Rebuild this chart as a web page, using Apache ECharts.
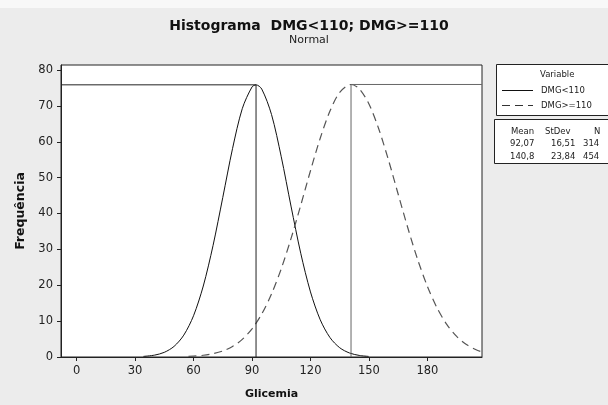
<!DOCTYPE html>
<html>
<head>
<meta charset="utf-8">
<script src="https://cdn.jsdelivr.net/npm/echarts@6/dist/echarts.min.js"></script>
<style>html,body{margin:0;padding:0;background:#ececec;}#c{width:608px;height:405px;}</style>
</head>
<body>
<div id="c"></div>
<script>
// Curve values (fitted normal curves, frequency scale)
const xSolid = [34.3,40,45,50,55,60,65,70,75,80,85,90,92.07,95,100,105,110,115,120,125,130,135,140,145,149.8];
const ySolid = [0.17,0.52,1.30,2.95,6.10,11.50,19.79,31.05,44.46,58.08,69.22,75.27,75.87,74.69,67.61,55.83,42.07,28.92,18.14,10.38,5.42,2.58,1.12,0.44,0.17];
const xDash = [57.4,60,65,70,75,80,85,90,95,100,105,110,115,120,125,130,135,140.8,145,150,155,160,165,170,175,180,185,190,195,200,205,208];
const yDash = [0.17,0.24,0.48,0.92,1.68,2.94,4.91,7.85,12.00,17.57,24.60,32.98,42.30,51.93,60.99,68.56,73.75,75.97,74.80,70.52,63.63,54.93,45.38,35.88,27.15,19.66,13.62,9.03,5.73,3.48,2.02,1.43];
const seriesNames = ['DMG<110','DMG>=110'];
const means = [92.07, 140.8];
const peaks = [75.87, 75.97];
const tableHeader = ['Mean','StDev','N'];
const tableRows = [['92,07','16,51','314'],['140,8','23,84','454']];
const xTicks = [0,30,60,90,120,150,180];
const yTicks = [0,10,20,30,40,50,60,70,80];
const xMin = -8, xMax = 208, yMin = 0, yMax = 81.4;

const zip = (a,b) => a.map((v,i)=>[v,b[i]]);
const F = 'DejaVu Sans';
const LF = '8.5px "DejaVu Sans"';
const chart = echarts.init(document.getElementById('c'));
chart.setOption({
  backgroundColor: '#ececec',
  animation: false,
  title: {
    text: 'Histograma  DMG<110; DMG>=110',
    subtext: 'Normal',
    left: 304, textAlign: 'center', top: 14, itemGap: 2,
    textStyle: {fontFamily: F, fontWeight: 'bold', fontSize: 14, color: '#111'},
    subtextStyle: {fontFamily: F, fontSize: 11, color: '#222'}
  },
  grid: {left: 61, right: 126, top: 65, bottom: 46, show: true, backgroundColor: '#fff', borderColor: '#222', borderWidth: 1},
  xAxis: {
    type: 'value', min: xMin, max: xMax,
    name: 'Glicemia', nameLocation: 'middle', nameGap: 32,
    nameTextStyle: {fontFamily: F, fontWeight: 'bold', fontSize: 11, color: '#111'},
    axisLine: {lineStyle: {color: '#222'}},
    axisTick: {show: true, length: 4, customValues: xTicks, lineStyle: {color: '#222'}},
    axisLabel: {customValues: xTicks, fontFamily: F, fontSize: 11.5, color: '#222', margin: 8},
    splitLine: {show: false}
  },
  yAxis: {
    type: 'value', min: yMin, max: yMax,
    name: 'Frequência', nameLocation: 'middle', nameGap: 34,
    nameTextStyle: {fontFamily: F, fontWeight: 'bold', fontSize: 12.5, color: '#111'},
    axisLine: {show: true, onZero: false, lineStyle: {color: '#222'}},
    axisTick: {show: true, length: 4, customValues: yTicks, lineStyle: {color: '#222'}},
    axisLabel: {customValues: yTicks, fontFamily: F, fontSize: 11.5, color: '#222', margin: 8},
    splitLine: {show: false}
  },
  series: [
    {name: seriesNames[0], type: 'line', data: zip(xSolid, ySolid), smooth: 0.3, showSymbol: false,
     lineStyle: {color: '#111', width: 1}},
    {name: seriesNames[1], type: 'line', data: zip(xDash, yDash), smooth: 0.3, showSymbol: false,
     lineStyle: {color: '#555', width: 1.2, type: [8, 5]}},
    {type: 'line', data: [[xMin, peaks[0]], [means[0], peaks[0]], [means[0], 0]], showSymbol: false,
     lineStyle: {color: '#222', width: 1}},
    {type: 'line', data: [[xMax, peaks[1]], [means[1], peaks[1]], [means[1], 0]], showSymbol: false,
     lineStyle: {color: '#666', width: 1}}
  ],
  graphic: [
    {type: 'rect', shape: {x: 0, y: 0, width: 608, height: 8}, style: {fill: '#f8f8f8'}, silent: true},
    {type: 'rect', shape: {x: 496.5, y: 64.5, width: 115, height: 51}, style: {fill: '#fff', stroke: '#222', lineWidth: 1}},
    {type: 'text', x: 540, y: 70, style: {text: 'Variable', font: LF, fill: '#222'}},
    {type: 'line', shape: {x1: 502, y1: 90.5, x2: 533, y2: 90.5}, style: {stroke: '#111', lineWidth: 1}},
    {type: 'text', x: 541, y: 86, style: {text: seriesNames[0], font: LF, fill: '#222'}},
    {type: 'line', shape: {x1: 502, y1: 105.5, x2: 533, y2: 105.5}, style: {stroke: '#333', lineWidth: 1, lineDash: [8, 5]}},
    {type: 'text', x: 541, y: 101, style: {text: seriesNames[1], font: LF, fill: '#222'}},
    {type: 'rect', shape: {x: 494.5, y: 119.5, width: 117, height: 44}, style: {fill: '#fff', stroke: '#222', lineWidth: 1}},
    {type: 'text', x: 511, y: 127, style: {text: tableHeader[0], font: LF, fill: '#222'}},
    {type: 'text', x: 545, y: 127, style: {text: tableHeader[1], font: LF, fill: '#222'}},
    {type: 'text', x: 594, y: 127, style: {text: tableHeader[2], font: LF, fill: '#222'}},
    {type: 'text', x: 510, y: 139, style: {text: tableRows[0][0], font: LF, fill: '#222'}},
    {type: 'text', x: 551, y: 139, style: {text: tableRows[0][1], font: LF, fill: '#222'}},
    {type: 'text', x: 583, y: 139, style: {text: tableRows[0][2], font: LF, fill: '#222'}},
    {type: 'text', x: 510, y: 152, style: {text: tableRows[1][0], font: LF, fill: '#222'}},
    {type: 'text', x: 551, y: 152, style: {text: tableRows[1][1], font: LF, fill: '#222'}},
    {type: 'text', x: 583, y: 152, style: {text: tableRows[1][2], font: LF, fill: '#222'}}
  ]
});
</script>
</body>
</html>
